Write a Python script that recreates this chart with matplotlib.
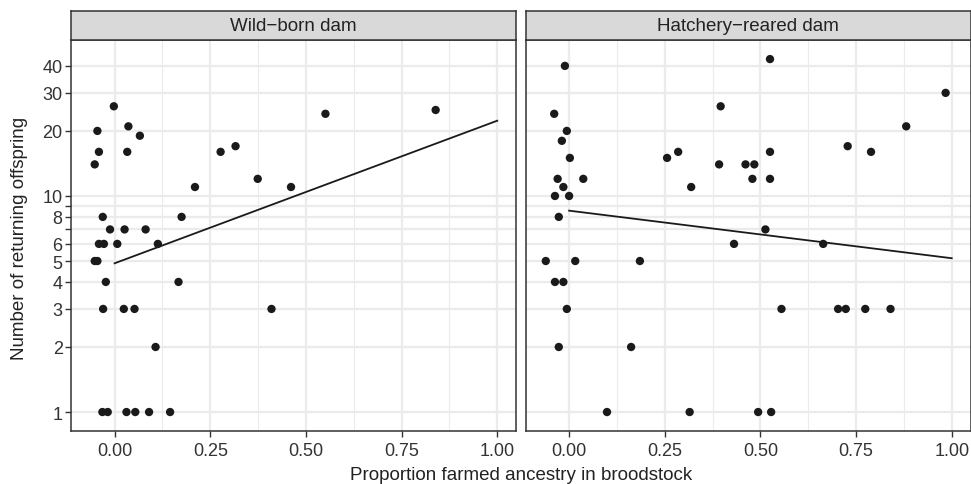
import matplotlib
matplotlib.use("Agg")
import matplotlib.pyplot as plt
import numpy as np
from matplotlib.ticker import FixedLocator, NullFormatter

plt.rcParams['font.family'] = ['Liberation Sans', 'DejaVu Sans']

# ---- data ----
panels = ["Wild\u2212born dam", "Hatchery\u2212reared dam"]

wild_x = [-0.002, -0.045, 0.036, 0.066, 0.551, 0.839, -0.041, 0.033, -0.052, 0.277,
          0.316, 0.210, 0.374, 0.461, -0.031, 0.175, -0.012, 0.026, 0.081, -0.041,
          -0.028, 0.007, 0.113, -0.052, -0.045, -0.023, 0.167, -0.030, 0.024, 0.052,
          0.410, 0.107, -0.032, -0.018, 0.031, 0.054, 0.090, 0.145]
wild_y = [26, 20, 21, 19, 24, 25, 16, 16, 14, 16,
          17, 11, 12, 11, 8, 8, 7, 7, 7, 6,
          6, 6, 6, 5, 5, 4, 4, 3, 3, 3,
          3, 2, 1, 1, 1, 1, 1, 1]

hatch_x = [-0.011, 0.525, 0.396, -0.039, 0.984, 0.881, -0.006, -0.019, 0.002, 0.256,
           0.285, 0.728, 0.789, 0.525, 0.392, 0.461, 0.484, 0.479, 0.525, -0.030,
           0.037, 0.319, -0.015, -0.037, 0.000, -0.027, 0.513, 0.431, 0.664, -0.061,
           0.016, 0.185, -0.037, -0.015, -0.006, 0.555, 0.703, 0.723, 0.774, 0.840,
           -0.027, 0.162, 0.099, 0.315, 0.494, 0.528]
hatch_y = [40, 43, 26, 24, 30, 21, 20, 18, 15, 15,
           16, 17, 16, 16, 14, 14, 14, 12, 12, 12,
           12, 11, 11, 10, 10, 8, 7, 6, 6, 5,
           5, 5, 4, 4, 3, 3, 3, 3, 3, 3,
           2, 2, 1, 1, 1, 1]

fit_x = [0.0, 1.0]
wild_fit = [4.88, 22.3]
hatch_fit = [8.55, 5.15]

x_ticks = [0.00, 0.25, 0.50, 0.75, 1.00]
x_labels = ["0.00", "0.25", "0.50", "0.75", "1.00"]
y_ticks = [1, 2, 3, 4, 5, 6, 7, 8, 9, 10, 20, 30, 40]
y_labels = ["1", "2", "3", "4", "5", "6", "", "8", "", "10", "20", "30", "40"]

# ---- layout ----
W, H = 971, 485
fig = plt.figure(figsize=(W / 100, H / 100), dpi=100)

def px_axes(x0, y0, x1, y1):
    return fig.add_axes([x0 / W, 1 - y1 / H, (x1 - x0) / W, (y1 - y0) / H])

panel_px = [(71, 516), (525.5, 970.5)]
top, bottom, strip_top = 41, 432, 11.5

grid_c = "#EBEBEB"
dark = "#333333"
txt = "#222222"
tick_txt = "#333333"

data = [(wild_x, wild_y, wild_fit), (hatch_x, hatch_y, hatch_fit)]

for i, ((x0, x1), (xs, ys, fit)) in enumerate(zip(panel_px, data)):
    ax = px_axes(x0, top, x1, bottom)
    ax.set_yscale("log")
    ax.set_xlim(-0.114, 1.049)
    ax.set_ylim(0.817, 52.7)
    ax.set_xticks(x_ticks)
    ax.set_xticklabels(x_labels)
    ax.xaxis.set_minor_locator(FixedLocator([0.125, 0.375, 0.625, 0.875]))
    ax.set_yticks(y_ticks)
    ax.yaxis.set_minor_locator(FixedLocator([]))
    ax.yaxis.set_minor_formatter(NullFormatter())
    if i == 0:
        ax.set_yticklabels(y_labels)
        ax.tick_params(axis="y", length=4, width=1, color=dark, labelsize=13,
                       labelcolor=tick_txt, pad=2)
    else:
        ax.set_yticklabels([])
        ax.tick_params(axis="y", length=0)
    ax.tick_params(axis="x", which="major", length=4, width=1, color=dark,
                   labelsize=13, labelcolor=tick_txt, pad=4)
    ax.tick_params(axis="x", which="minor", length=0)
    ax.grid(True, which="major", color=grid_c, linewidth=1.6, zorder=0)
    ax.grid(True, which="minor", axis="x", color=grid_c, linewidth=0.8, zorder=0)
    ax.set_axisbelow(True)
    for s in ax.spines.values():
        s.set_color(dark)
        s.set_linewidth(1.1)
    ax.scatter(xs, ys, s=36, color="#1A1A1A", edgecolors="none", zorder=3)
    ax.plot(fit_x, fit, color="#1A1A1A", linewidth=1.3, zorder=4)

    sax = px_axes(x0, strip_top, x1, top)
    sax.set_facecolor("#D9D9D9")
    sax.set_xticks([])
    sax.set_yticks([])
    for s in sax.spines.values():
        s.set_color(dark)
        s.set_linewidth(1.1)
    sax.text(0.5, 0.5, panels[i], transform=sax.transAxes, ha="center", va="center",
             fontsize=13.5, color=txt)

fig.text(20 / W, 1 - 238 / H, "Number of returning offspring", rotation=90,
         ha="center", va="center", fontsize=13.5, color=txt)
fig.text(521 / W, 1 - 476 / H, "Proportion farmed ancestry in broodstock",
         ha="center", va="center", fontsize=13.5, color=txt)

fig.savefig("out.png", dpi=100, facecolor="white")
